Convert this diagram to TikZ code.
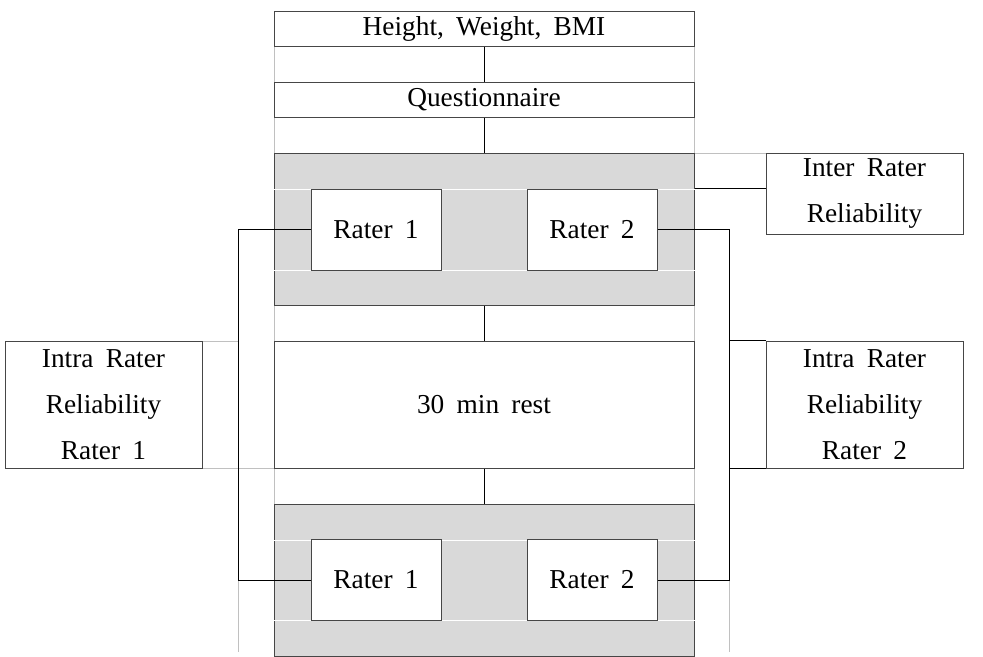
\documentclass[tikz,border=0pt]{standalone}
\usepackage{fontspec}
\setmainfont{Liberation Serif}
\usetikzlibrary{positioning}
\definecolor{flowgray}{RGB}{217,217,217}
\definecolor{flowedge}{RGB}{70,70,70}
\definecolor{gridgray}{RGB}{192,192,192}
\newcommand{\flowfont}{\rmfamily\fontsize{20.5}{34.5}\selectfont\spaceskip=0.45em plus 0.1em\relax}

\begin{document}
\begin{tikzpicture}[
    x=0.75pt, y=-0.75pt,
    box/.style={draw=flowedge, fill=white, line width=0.75pt, font=\flowfont, align=center, inner sep=0pt},
    wide/.style={box, minimum width=315pt},
    rater/.style={box, minimum width=97.5pt, minimum height=60.75pt},
    side/.style={box, minimum width=147.75pt},
    block/.style={draw=flowedge, fill=flowgray, line width=0.75pt, minimum width=315pt, minimum height=114pt, inner sep=0pt},
    link/.style={draw=black, line width=0.75pt},
    grid/.style={draw=gridgray, line width=0.75pt}
]
\useasboundingbox (0,0) rectangle (983,657);
% faint table lines
\draw[grid] (274,11) -- (274,657);
\draw[grid] (694,11) -- (694,657);
\draw[grid] (238,575) -- (238,652);
\draw[grid] (729,575) -- (729,652);
\draw[grid] (694,153) -- (766,153);
\draw[grid] (202,341) -- (238,341);
\draw[grid] (202,468) -- (274,468);

% main column
\node[wide, minimum height=26.25pt] (hwb) at (484,28.5) {\raisebox{-1.5pt}{Height, Weight, BMI}};
\node[wide, minimum height=26.25pt] (quest) at (484,99.5) {\raisebox{-1.5pt}{Questionnaire}};
\node[block] (blk1) at (484,229) {};
\draw[white, line width=0.75pt] (blk1.west |- 0,189) -- (blk1.east |- 0,189);
\draw[white, line width=0.75pt] (blk1.west |- 0,270) -- (blk1.east |- 0,270);
\node[rater] (r11) at (376,229.5) {Rater 1};
\node[rater] (r12) at (592,229.5) {Rater 2};
\node[wide, minimum height=95.25pt] (rest) at (484,404.5) {30 min rest};
\node[block] (blk2) at (484,580) {};
\draw[white, line width=0.75pt] (blk2.west |- 0,540) -- (blk2.east |- 0,540);
\draw[white, line width=0.75pt] (blk2.west |- 0,620) -- (blk2.east |- 0,620);
\node[rater] (r21) at (376,580) {Rater 1};
\node[rater] (r22) at (592,580) {Rater 2};

% side boxes
\node[side, minimum height=60.75pt] (inter) at (864.5,193.5) {Inter Rater\\Reliability};
\node[side, minimum height=95.25pt] (intra1) at (103.5,404.5) {Intra Rater\\Reliability\\Rater 1};
\node[side, minimum height=95.25pt] (intra2) at (864.5,404.5) {Intra Rater\\Reliability\\Rater 2};

\coordinate (lbus) at (238,0);
\coordinate (rbus) at (729,0);

% connectors
\draw[link] (hwb) -- (quest);
\draw[link] (quest) -- (blk1);
\draw[link] (blk1) -- (rest);
\draw[link] (rest) -- (blk2);
\draw[link] (r11.west) -- (r11.west -| lbus) |- (r21.west);
\draw[link] (r12.east) -- (r12.east -| rbus) |- (r22.east);
\draw[link] (blk1.east |- r11.north) -- (inter.west |- r11.north);
\draw[link] (intra2.north west -| rbus) -- (intra2.north west);
\draw[link] (intra2.south west -| rbus) -- (intra2.south west);
\end{tikzpicture}
\end{document}
